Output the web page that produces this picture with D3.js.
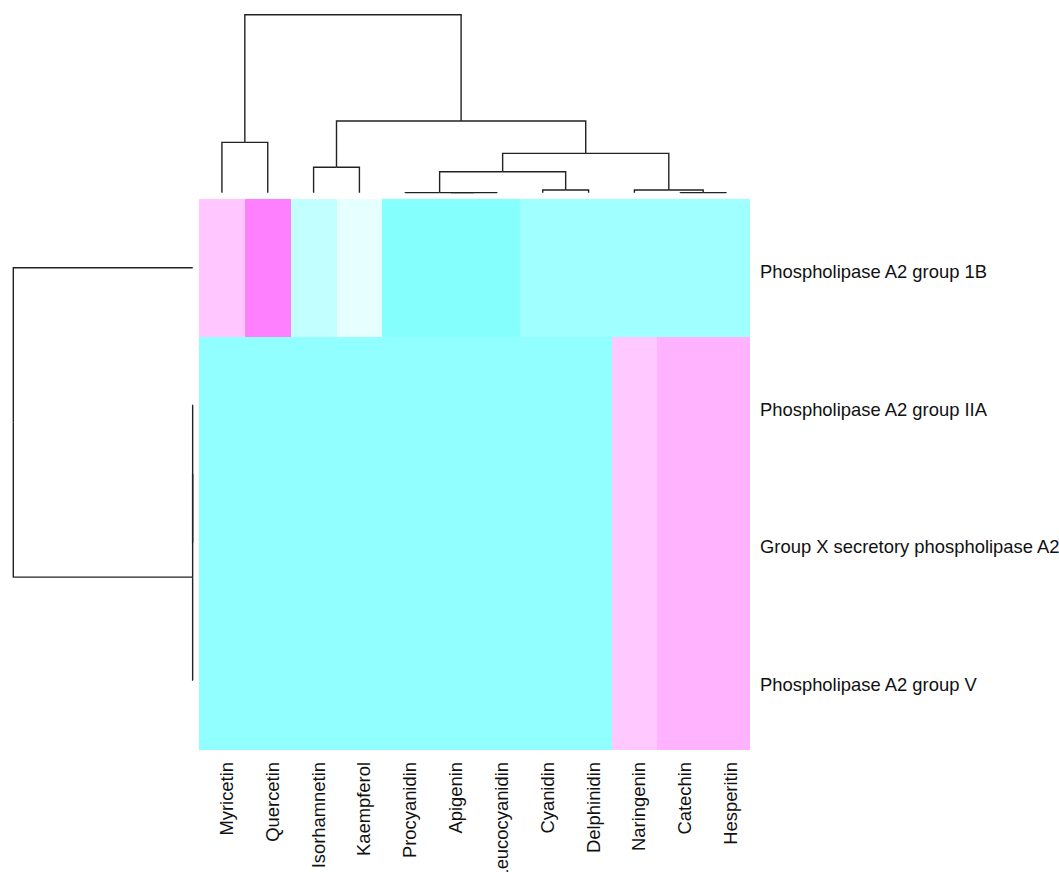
<!DOCTYPE html>
<html>
<head>
<meta charset="utf-8">
<script src="https://cdn.jsdelivr.net/npm/d3@7"></script>
<style>
  html, body { margin: 0; padding: 0; background: #ffffff; }
  svg { display: block; }
  text { font-family: Arial, "Liberation Sans", sans-serif; fill: #111; }
</style>
</head>
<body>
<svg id="chart" width="1059" height="872"></svg>
<script>
// Compounds (columns) in dendrogram order
const compounds = ["Myricetin", "Quercetin", "Isorhamnetin", "Kaempferol", "Procyanidin",
  "Apigenin", "Leucocyanidin", "Cyanidin", "Delphinidin", "Naringenin", "Catechin", "Hesperitin"];

// Enzymes (rows) in dendrogram order
const enzymes = ["Phospholipase A2 group 1B", "Phospholipase A2 group IIA",
  "Group X secretory phospholipase A2", "Phospholipase A2 group V"];

// Row-scaled scores, one array per enzyme (negative = cyan, positive = magenta)
const group1B   = [0.45, 1.00, -0.48, -0.20, -0.95, -0.95, -0.95, -0.75, -0.75, -0.75, -0.75, -0.75];
const groupIIA  = [-0.87, -0.87, -0.87, -0.87, -0.87, -0.87, -0.87, -0.87, -0.87, 0.43, 0.60, 0.60];
const groupX    = [-0.87, -0.87, -0.87, -0.87, -0.87, -0.87, -0.87, -0.87, -0.87, 0.43, 0.60, 0.60];
const groupV    = [-0.87, -0.87, -0.87, -0.87, -0.87, -0.87, -0.87, -0.87, -0.87, 0.43, 0.60, 0.60];
const scores = [group1B, groupIIA, groupX, groupV];

// Column clustering tree (merge heights, normalised to the root)
const colTree = { h: 1.0, children: [
  { h: 0.283, children: [{ name: "Myricetin" }, { name: "Quercetin" }] },
  { h: 0.403, children: [
    { h: 0.143, children: [{ name: "Isorhamnetin" }, { name: "Kaempferol" }] },
    { h: 0.221, children: [
      { h: 0.118, children: [
        { h: 0.0006, children: [{ name: "Procyanidin" },
          { h: 0.0003, children: [{ name: "Apigenin" }, { name: "Leucocyanidin" }] }] },
        { h: 0.015, children: [{ name: "Cyanidin" }, { name: "Delphinidin" }] }
      ] },
      { h: 0.015, children: [{ name: "Naringenin" },
        { h: 0.0006, children: [{ name: "Catechin" }, { name: "Hesperitin" }] }] }
    ] }
  ] }
] };

// Row clustering tree
const rowTree = { h: 1.0, children: [
  { name: "Phospholipase A2 group 1B" },
  { h: 0.0003, children: [
    { h: 0.0002, children: [{ name: "Phospholipase A2 group IIA" }, { name: "Group X secretory phospholipase A2" }] },
    { name: "Phospholipase A2 group V" }
  ] }
] };

const svg = d3.select("#chart");
svg.append("rect").attr("width", 1059).attr("height", 872).attr("fill", "#ffffff");

const hm = { left: 199, top: 199, right: 749, bottom: 749 };

const x = d3.scaleBand().domain(compounds).range([hm.left, hm.right]).paddingInner(0).paddingOuter(0);
const y = d3.scaleBand().domain(enzymes).range([hm.top, hm.bottom]).paddingInner(0).paddingOuter(0);

const color = d3.scaleLinear()
  .domain([-1, 0, 1])
  .range(["#80ffff", "#ffffff", "#ff80ff"])
  .interpolate(d3.interpolateRgb);

// Heatmap cells
const cells = [];
scores.forEach((row, i) => row.forEach((v, j) => cells.push({ r: enzymes[i], c: compounds[j], v })));
svg.append("g").selectAll("rect").data(cells).join("rect")
  .attr("x", d => x(d.c))
  .attr("y", d => y(d.r))
  .attr("width", x.bandwidth() + 0.5)
  .attr("height", y.bandwidth() + 0.5)
  .attr("fill", d => color(d.v))
  .attr("shape-rendering", "crispEdges");

const labelSize = 18.4;

// Column labels, rotated, reading upward
svg.append("g").selectAll("text").data(compounds).join("text")
  .attr("transform", d => `translate(${x(d) + x.bandwidth() / 2 + 11},762) rotate(-90)`)
  .attr("text-anchor", "end")
  .attr("font-size", labelSize)
  .text(d => d);

// Row labels
svg.append("g").selectAll("text").data(enzymes).join("text")
  .attr("x", 760)
  .attr("y", d => y(d) + y.bandwidth() / 2 + 10.5)
  .attr("font-size", labelSize)
  .text(d => d);

// Dendrogram drawing: elbow links from each parent to its children
function drawTree(treeData, leafPos, heightPos, vertical) {
  const root = d3.hierarchy(treeData);
  root.eachAfter(n => {
    if (!n.children) { n.pos = leafPos(n.data.name); n.hh = 0; }
    else { n.pos = d3.mean(n.children, c => c.pos); n.hh = n.data.h; }
  });
  const g = svg.append("g").attr("fill", "none").attr("stroke", "#222").attr("stroke-width", 1.4);
  const links = root.links();
  g.selectAll("path").data(links).join("path")
    .attr("d", l => {
      const p = l.source, c = l.target;
      const hp = heightPos(p.hh), hc = heightPos(c.hh);
      return vertical
        ? `M${p.pos},${hp}H${c.pos}V${hc}`
        : `M${hp},${p.pos}V${c.pos}H${hc}`;
    });
}

const colH = d3.scaleLinear().domain([0, 1]).range([192.7, 14.7]);
drawTree(colTree, name => x(name) + x.bandwidth() / 2, colH, true);

const rowH = d3.scaleLinear().domain([0, 1]).range([192.7, 13.3]);
drawTree(rowTree, name => y(name) + y.bandwidth() / 2, rowH, false);
</script>
</body>
</html>
